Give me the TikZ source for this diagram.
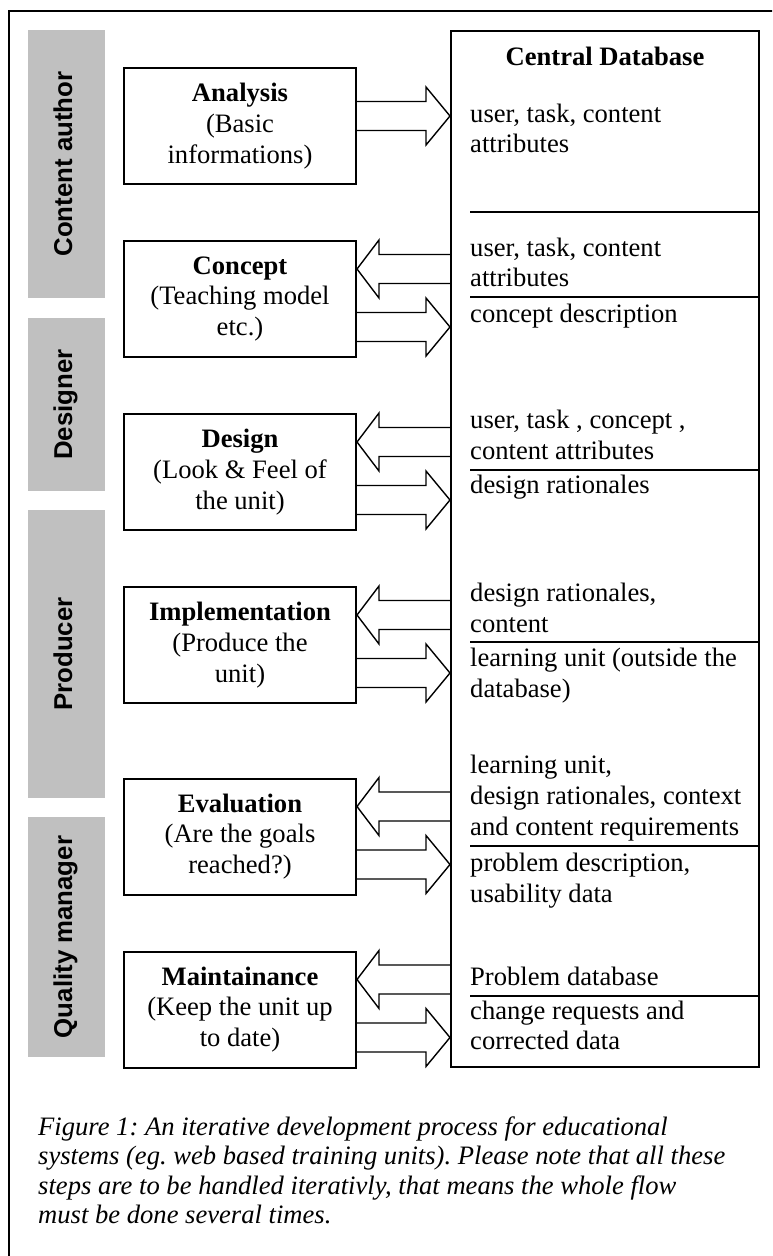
\documentclass[tikz,border=0pt]{standalone}
\usepackage{fontspec}
\setmainfont{Liberation Serif}
\setsansfont{Liberation Sans}
\usetikzlibrary{calc}
\frenchspacing

\definecolor{rolegray}{HTML}{C0C0C0}
\newcommand\boxfont{\fontsize{26.6}{30.8}\selectfont}
\newcommand\rolefont{\sffamily\bfseries\fontsize{25.8}{30}\selectfont}
\newcommand\capfont{\itshape\fontsize{26.6}{29.5}\selectfont}

% block arrow from a step into the database, #2 = centre below the step's top
\newcommand\todb[2]{%
  \draw[blockarrow] let \p1=(#1.east), \p2=(db.west), \p3=(#1.north) in
    (\x1,\y3-#2pt+14.5pt) -- (\x2-24pt,\y3-#2pt+14.5pt) -- (\x2-24pt,\y3-#2pt+29pt)
    -- (\x2,\y3-#2pt) -- (\x2-24pt,\y3-#2pt-29pt) -- (\x2-24pt,\y3-#2pt-14.5pt)
    -- (\x1,\y3-#2pt-14.5pt);}
% block arrow from the database back to a step
\newcommand\fromdb[2]{%
  \draw[blockarrow] let \p1=(#1.east), \p2=(db.west), \p3=(#1.north) in
    (\x2,\y3-#2pt+14.5pt) -- (\x1+22pt,\y3-#2pt+14.5pt) -- (\x1+22pt,\y3-#2pt+29pt)
    -- (\x1,\y3-#2pt) -- (\x1+22pt,\y3-#2pt-29pt) -- (\x1+22pt,\y3-#2pt-14.5pt)
    -- (\x2,\y3-#2pt-14.5pt);}

\begin{document}
\begin{tikzpicture}[x=1pt,y=-1pt,
    stepbox/.style={draw,line width=2pt,minimum width=232pt,minimum height=116pt,
      align=center,font=\boxfont,inner sep=0pt},
    rolebar/.style={fill=rolegray,minimum width=77pt,inner sep=0pt},
    rolelabel/.style={rotate=90,anchor=base,font=\rolefont,inner sep=0pt},
    dbtext/.style={anchor=north west,align=left,font=\boxfont,inner sep=0pt},
    dbline/.style={anchor=base west,font=\boxfont,inner sep=0pt},
    blockarrow/.style={line width=1.4pt,line join=miter},
    sepline/.style={line width=2pt}]

  \useasboundingbox (0,0) rectangle (772,1256);
  \clip (0,0) rectangle (772,1256);
  \draw[line width=2pt] (9,11) rectangle (790,1280);

  % roles
  \node[rolebar,minimum height=268pt] (ca) at (66.5,164) {};
  \node[rolebar,minimum height=173pt] (des) at (66.5,404.5) {};
  \node[rolebar,minimum height=288pt] (prod) at (66.5,654) {};
  \node[rolebar,minimum height=240pt] (qm) at (66.5,937) {};
  \node[rolelabel] (calab) at ([xshift=5.5pt]ca.center) {Content author};
  \node[rolelabel] (deslab) at ([xshift=5.5pt]des.center) {Designer};
  \node[rolelabel] (prodlab) at ([xshift=5.5pt]prod.center) {Producer};
  \node[rolelabel] (qmlab) at ([xshift=5.5pt]qm.center) {Quality manager};

  % steps
  \node[stepbox] (ana) at (240,126) {\textbf{Analysis}\\(Basic\\informations)};
  \node[stepbox] (con) at (240,299) {\textbf{Concept}\\(Teaching model\\etc.)};
  \node[stepbox] (dsg) at (240,472) {\textbf{Design}\\(Look \& Feel of\\the unit)};
  \node[stepbox] (imp) at (240,645) {\textbf{Implementation}\\(Produce the\\unit)};
  \node[stepbox] (eva) at (240,836.5) {\textbf{Evaluation}\\(Are the goals\\reached?)};
  \node[stepbox] (mai) at (240,1009.5) {\textbf{Maintainance}\\(Keep the unit up\\to date)};

  % database
  \node[draw,line width=2pt,minimum width=308pt,minimum height=1036pt,inner sep=0pt] (db) at (605,549) {};
  \node[anchor=base,font=\boxfont\bfseries,inner sep=0pt] (dbtitle) at (605,65) {Central Database};
  \foreach \y in {212,297,470,642,846,996}
    \draw[sepline] (470,\y) -- (759,\y);

  \node[dbtext] (d1) at (470,100.4) {\strut user, task, content\\attributes};
  \node[dbtext] (d2) at (470,234.4) {\strut user, task, content\\attributes};
  \node[dbline] (d3) at (470,322) {concept description};
  \node[dbtext] (d4) at (470,406.6) {\strut user, task , concept ,\\content attributes};
  \node[dbline] (d5) at (470,493.3) {design rationales};
  \node[dbtext] (d6) at (470,580.2) {\strut design rationales,\\content};
  \node[dbtext] (d7) at (470,645.2) {\strut learning unit (outside the\\database)};
  \node[dbtext] (d8) at (470,751.7) {\strut learning unit,\\design rationales, context\\and content requirements};
  \node[dbtext] (d9) at (470,850.2) {\strut problem description,\\usability data};
  \node[dbline] (d10) at (470,985) {Problem database};
  \node[dbtext] (d11) at (470,997.4) {\strut change requests and\\corrected data};

  % flows
  \todb{ana}{49}
  \fromdb{con}{29} \todb{con}{87}
  \fromdb{dsg}{29} \todb{dsg}{87}
  \fromdb{imp}{29} \todb{imp}{87}
  \fromdb{eva}{29} \todb{eva}{87}
  \fromdb{mai}{29} \todb{mai}{87}

  \node[anchor=north west,align=left,font=\capfont,inner sep=0pt] (cap) at (38,1114.4)
    {\strut Figure 1: An iterative development process for educational\\
     systems (eg. web based training units). Please note that all these\\
     steps are to be handled iterativly, that means the whole flow\\
     must be done several times.};
\end{tikzpicture}
\end{document}
